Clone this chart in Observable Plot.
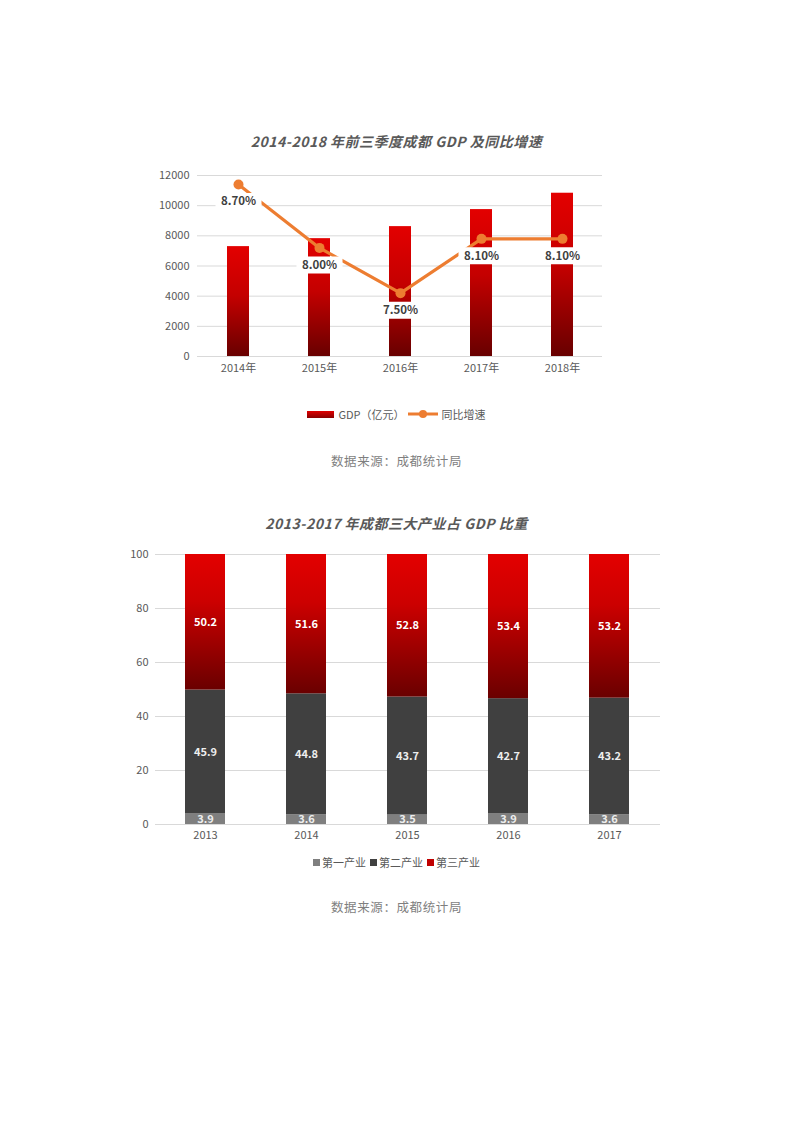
<!DOCTYPE html>
<html>
<head>
<meta charset="utf-8">
<script src="https://cdn.jsdelivr.net/npm/d3@7"></script>
<script src="https://cdn.jsdelivr.net/npm/@observablehq/plot@0.6"></script>
<style>
  body { margin: 0; background: #fff; font-family: "Noto Sans CJK SC", "Noto Sans", sans-serif; }
  #page { position: relative; width: 793px; height: 1122px; overflow: hidden; }
  .abs { position: absolute; }
  .title { left: 0; width: 793px; text-align: center; font-size: 14px; font-weight: bold; font-style: italic; color: #595959; letter-spacing: 0.5px; }
  .caption { left: 0; width: 793px; text-align: center; font-size: 12.5px; color: #7f7f7f; letter-spacing: 0.6px; }
  .legend { left: 0; width: 793px; display: flex; justify-content: center; align-items: center; font-size: 11px; color: #595959; }
  .sw { display: inline-block; }
</style>
</head>
<body>
<div id="page">
  <div class="abs title" style="top:131px;">2014-2018 年前三季度成都 GDP 及同比增速</div>
  <div id="c1" class="abs" style="top:155px;left:0;"></div>
  <div class="abs legend" style="top:406px;">
    <span class="sw" style="width:27px;height:7px;background:linear-gradient(#e00000,#8a0000);margin-right:4px;"></span>
    <span>GDP（亿元）</span>
    <svg width="32" height="12" style="margin:0 3px 0 2px;"><line x1="1" y1="6" x2="31" y2="6" stroke="#ed7d31" stroke-width="3"/><circle cx="16" cy="6" r="4" fill="#ed7d31"/></svg>
    <span>同比增速</span>
  </div>
  <div class="abs caption" style="top:451px;">数据来源：成都统计局</div>

  <div class="abs title" style="top:513px;">2013-2017 年成都三大产业占 GDP 比重</div>
  <div id="c2" class="abs" style="top:534px;left:0;"></div>
  <div class="abs legend" style="top:854px;">
    <span class="sw" style="width:7px;height:7px;background:#7f7f7f;margin-right:2px;"></span><span style="margin-right:4px;">第一产业</span>
    <span class="sw" style="width:7px;height:7px;background:#404040;margin-right:2px;"></span><span style="margin-right:4px;">第二产业</span>
    <span class="sw" style="width:7px;height:7px;background:#c00000;margin-right:2px;"></span><span>第三产业</span>
  </div>
  <div class="abs caption" style="top:897px;">数据来源：成都统计局</div>
</div>

<svg width="0" height="0" style="position:absolute">
  <defs>
    <linearGradient id="g1" x1="0" y1="0" x2="0" y2="1">
      <stop offset="0" stop-color="#e30000"/>
      <stop offset="0.45" stop-color="#c40000"/>
      <stop offset="1" stop-color="#680000"/>
    </linearGradient>
    <linearGradient id="g2" x1="0" y1="0" x2="0" y2="1">
      <stop offset="0" stop-color="#e30000"/>
      <stop offset="0.35" stop-color="#cc0000"/>
      <stop offset="1" stop-color="#6a0000"/>
    </linearGradient>
  </defs>
</svg>

<script>
// ---------- Chart 1 data ----------
const years1 = ["2014年", "2015年", "2016年", "2017年", "2018年"];
const gdp = [7285, 7813, 8611, 9740, 10825];
const growth = [8.70, 8.00, 7.50, 8.10, 8.10];
const yTicks1 = [0, 2000, 4000, 6000, 8000, 10000, 12000];
const rateDomain = [6.8, 8.8];

// ---------- Chart 2 data ----------
const years2 = ["2013", "2014", "2015", "2016", "2017"];
const sectors = ["第一产业", "第二产业", "第三产业"];
const primary = [3.9, 3.6, 3.5, 3.9, 3.6];
const secondary = [45.9, 44.8, 43.7, 42.7, 43.2];
const tertiary = [50.2, 51.6, 52.8, 53.4, 53.2];
const yTicks2 = [0, 20, 40, 60, 80, 100];

const font = '"Noto Sans CJK SC", "Noto Sans", sans-serif';

// Chart 1
const rateToY = d3.scaleLinear(rateDomain, [0, 12000]);
const t1 = years1.map((y, i) => ({year: y, gdp: gdp[i], rate: growth[i], ry: rateToY(growth[i])}));
const boxSymbol = {draw(ctx) { ctx.rect(-23, -8.5, 46, 17); }};

const chart1 = Plot.plot({
  width: 793, height: 231,
  marginLeft: 197, marginRight: 191, marginTop: 20, marginBottom: 30,
  style: {fontFamily: font, fontSize: "11px", color: "#595959", background: "transparent"},
  x: {domain: years1, paddingInner: 0.73, paddingOuter: 0.365, label: null},
  y: {domain: [0, 12000], label: null},
  marks: [
    Plot.ruleY(yTicks1, {stroke: "#d9d9d9", strokeWidth: 1}),
    Plot.axisY({ticks: yTicks1, tickSize: 0, tickPadding: 8, tickFormat: d => String(d), fill: "#595959"}),
    Plot.axisX({tickSize: 0, tickPadding: 8, fill: "#595959"}),
    Plot.barY(t1, {x: "year", y: "gdp", fill: "url(#g1)"}),
    Plot.line(t1, {x: "year", y: "ry", stroke: "#ed7d31", strokeWidth: 3.2, strokeLinejoin: "round", strokeLinecap: "round"}),
    Plot.dot(t1, {x: "year", y: "ry", r: 5, fill: "#ed7d31", stroke: "none"}),
    Plot.dot(t1, {x: "year", y: "ry", symbol: boxSymbol, r: 5, fill: "white", stroke: "none", dy: 17}),
    Plot.text(t1, {x: "year", y: "ry", text: d => d.rate.toFixed(2) + "%", dy: 17, fontWeight: "bold", fontSize: 11.5, fill: "#404040"})
  ]
});
document.getElementById("c1").appendChild(chart1);

// Chart 2
const t2 = [];
years2.forEach((y, i) => {
  t2.push({year: y, sector: sectors[0], v: primary[i]});
  t2.push({year: y, sector: sectors[1], v: secondary[i]});
  t2.push({year: y, sector: sectors[2], v: tertiary[i]});
});

const chart2 = Plot.plot({
  width: 793, height: 320,
  marginLeft: 155, marginRight: 133, marginTop: 20, marginBottom: 30,
  style: {fontFamily: font, fontSize: "11px", color: "#595959", background: "transparent"},
  x: {domain: years2, paddingInner: 0.6, paddingOuter: 0.3, label: null},
  y: {domain: [0, 100], label: null},
  color: {domain: sectors, range: ["#7f7f7f", "#404040", "url(#g2)"]},
  marks: [
    Plot.ruleY(yTicks2, {stroke: "#d9d9d9", strokeWidth: 1}),
    Plot.axisY({ticks: yTicks2, tickSize: 0, tickPadding: 7, fill: "#595959"}),
    Plot.axisX({tickSize: 0, tickPadding: 7, fill: "#595959"}),
    Plot.barY(t2, {x: "year", y: "v", fill: "sector", order: sectors}),
    Plot.text(t2, Plot.stackY({x: "year", y: "v", z: "sector", order: sectors, text: d => d.v.toFixed(1),
      fill: d => d.sector === "第三产业" ? "#ffffff" : "#eeeeee", fontWeight: "bold", fontSize: 11}))
  ]
});
document.getElementById("c2").appendChild(chart2);
</script>
</body>
</html>
